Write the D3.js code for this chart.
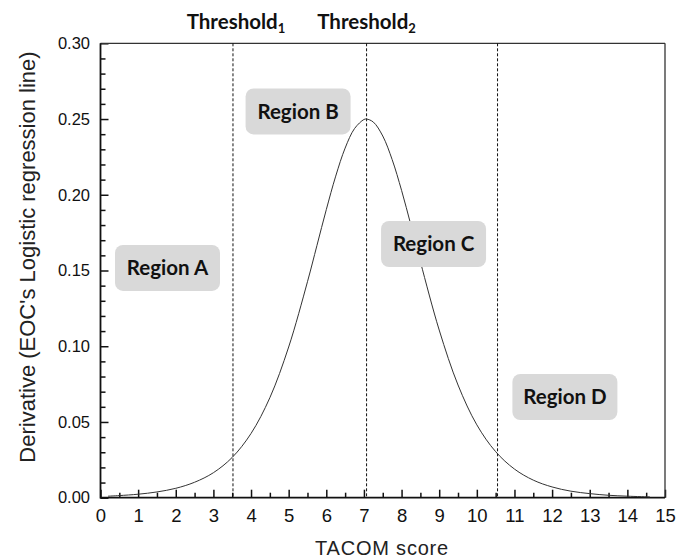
<!DOCTYPE html>
<html>
<head>
<meta charset="utf-8">
<script src="https://cdn.jsdelivr.net/npm/d3@7"></script>
<style>
  html, body { margin: 0; padding: 0; background: #fff; }
  svg { display: block; }
</style>
</head>
<body>
<svg id="chart" width="690" height="558"></svg>
<script>
// ---- data ----
const xTickValues = [0,1,2,3,4,5,6,7,8,9,10,11,12,13,14,15];
const yTickValues = [0, 0.05, 0.10, 0.15, 0.20, 0.25, 0.30];
const curveX = [0.2, 0.5, 1, 1.5, 2, 2.5, 3, 3.5, 4, 4.5, 5, 5.5, 5.75, 6, 6.25, 6.5, 6.75, 7, 7.07, 7.25, 7.5, 7.75, 8, 8.25, 8.5, 9, 9.5, 10, 10.5, 11, 11.5, 12, 12.5, 13, 13.5, 14, 14.6];
const curveY = [0.0010, 0.0014, 0.0023, 0.0038, 0.0062, 0.0102, 0.0165, 0.0266, 0.0424, 0.0660, 0.0995, 0.1426, 0.1664, 0.1902, 0.2123, 0.2308, 0.2437, 0.2497, 0.2500, 0.2480, 0.2388, 0.2232, 0.2029, 0.1798, 0.1558, 0.1107, 0.0744, 0.0481, 0.0304, 0.0189, 0.0116, 0.0071, 0.0043, 0.0027, 0.0016, 0.0010, 0.0005];
const thresholdX = [3.52, 7.07, 10.55];
const thresholdNames = ["Threshold", "Threshold"];
const thresholdSubs = ["1", "2"];
const regionNames = ["Region A", "Region B", "Region C", "Region D"];
const regionAtX = [1.78, 5.25, 8.85, 12.34];
const regionAtY = [0.1517, 0.255, 0.1675, 0.0665];

// ---- layout ----
const svg = d3.select("#chart");
const L = 100.5, R = 665, T = 43.3, B = 497.7;
const x = d3.scaleLinear().domain([0, 15]).range([L, R]);
const y = d3.scaleLinear().domain([0, 0.30]).range([B, T]);
const axisFont = "'Liberation Sans', Arial, sans-serif";
const boldFont = "Lato, 'Open Sans', sans-serif";

const xMinor = d3.range(0.5, 15, 1);
const yMinor = d3.range(0, 0.3001, 0.01).filter(v => Math.abs(Math.round(v * 20) - v * 20) > 1e-6);

// X axis (ticks pointing inward = up)
const gx = svg.append("g").attr("transform", `translate(0,${B})`);
gx.call(d3.axisBottom(x).tickValues(xTickValues).tickSize(-8).tickPadding(11.5).tickFormat(d3.format("d")));
gx.append("g").call(d3.axisBottom(x).tickValues(xMinor).tickSize(-5).tickFormat(""));
gx.selectAll(".domain").remove();
gx.selectAll("text").attr("font-family", axisFont).attr("font-size", 18.5).attr("fill", "#111");
gx.selectAll("line").attr("stroke", "#111").attr("stroke-width", 1.5);

// Y axis (ticks pointing inward = right)
const gy = svg.append("g").attr("transform", `translate(${L},0)`);
gy.call(d3.axisLeft(y).tickValues(yTickValues).tickSize(-8).tickPadding(10.5).tickFormat(d3.format(".2f")));
gy.append("g").call(d3.axisLeft(y).tickValues(yMinor).tickSize(-5).tickFormat(""));
gy.selectAll(".domain").remove();
gy.selectAll("text").attr("font-family", axisFont).attr("font-size", 16.5).attr("fill", "#111");
gy.selectAll("line").attr("stroke", "#111").attr("stroke-width", 1.5);

// frame: top/right lighter, left/bottom heavier
svg.append("line").attr("x1", L).attr("x2", R).attr("y1", T).attr("y2", T).attr("stroke", "#333").attr("stroke-width", 1.3);
svg.append("line").attr("x1", R).attr("x2", R).attr("y1", T).attr("y2", B).attr("stroke", "#333").attr("stroke-width", 1.3);
svg.append("line").attr("x1", L).attr("x2", L).attr("y1", T).attr("y2", B + 0.75).attr("stroke", "#111").attr("stroke-width", 1.8);
svg.append("line").attr("x1", L).attr("x2", R).attr("y1", B).attr("y2", B).attr("stroke", "#111").attr("stroke-width", 1.8);

// threshold lines
svg.selectAll(".thr").data(thresholdX).enter().append("line")
  .attr("x1", d => x(d)).attr("x2", d => x(d)).attr("y1", T).attr("y2", B)
  .attr("stroke", "#111").attr("stroke-width", 1).attr("stroke-dasharray", "3,2");

// curve
const pts = curveX.map((v, i) => [v, curveY[i]]);
svg.append("path").datum(pts)
  .attr("d", d3.line().x(d => x(d[0])).y(d => y(d[1])).curve(d3.curveCatmullRom.alpha(0.5)))
  .attr("fill", "none").attr("stroke", "#333").attr("stroke-width", 1);

// threshold labels
thresholdNames.forEach((nm, i) => {
  const t = svg.append("text").attr("x", x(thresholdX[i]) + (i === 0 ? 3 : 0)).attr("y", 29)
    .attr("text-anchor", "middle").attr("font-family", boldFont).attr("font-weight", "bold")
    .attr("font-size", 20.5).attr("fill", "#111");
  t.append("tspan").text(nm);
  t.append("tspan").attr("font-size", 13).attr("dy", 4).text(thresholdSubs[i]);
});

// region boxes
const bw = 105, bh = 46;
regionNames.forEach((nm, i) => {
  const cx = x(regionAtX[i]), cy = y(regionAtY[i]);
  svg.append("rect").attr("x", cx - bw / 2).attr("y", cy - bh / 2).attr("width", bw).attr("height", bh)
    .attr("rx", 8).attr("ry", 8).attr("fill", "#d9d9d9");
  svg.append("text").attr("x", cx).attr("y", cy + 7.5).attr("text-anchor", "middle")
    .attr("font-family", boldFont).attr("font-weight", "bold").attr("font-size", 20.5)
    .attr("fill", "#111").text(nm);
});

// axis titles
svg.append("text").attr("x", 382).attr("y", 555).attr("text-anchor", "middle")
  .attr("font-family", axisFont).attr("font-size", 20).attr("letter-spacing", 0.8)
  .attr("fill", "#222").text("TACOM score");
svg.append("text").attr("transform", `translate(35,257) rotate(-90)`)
  .attr("text-anchor", "middle").attr("font-family", axisFont).attr("font-size", 22)
  .attr("fill", "#222").text("Derivative (EOC's Logistic regression line)");
</script>
</body>
</html>
